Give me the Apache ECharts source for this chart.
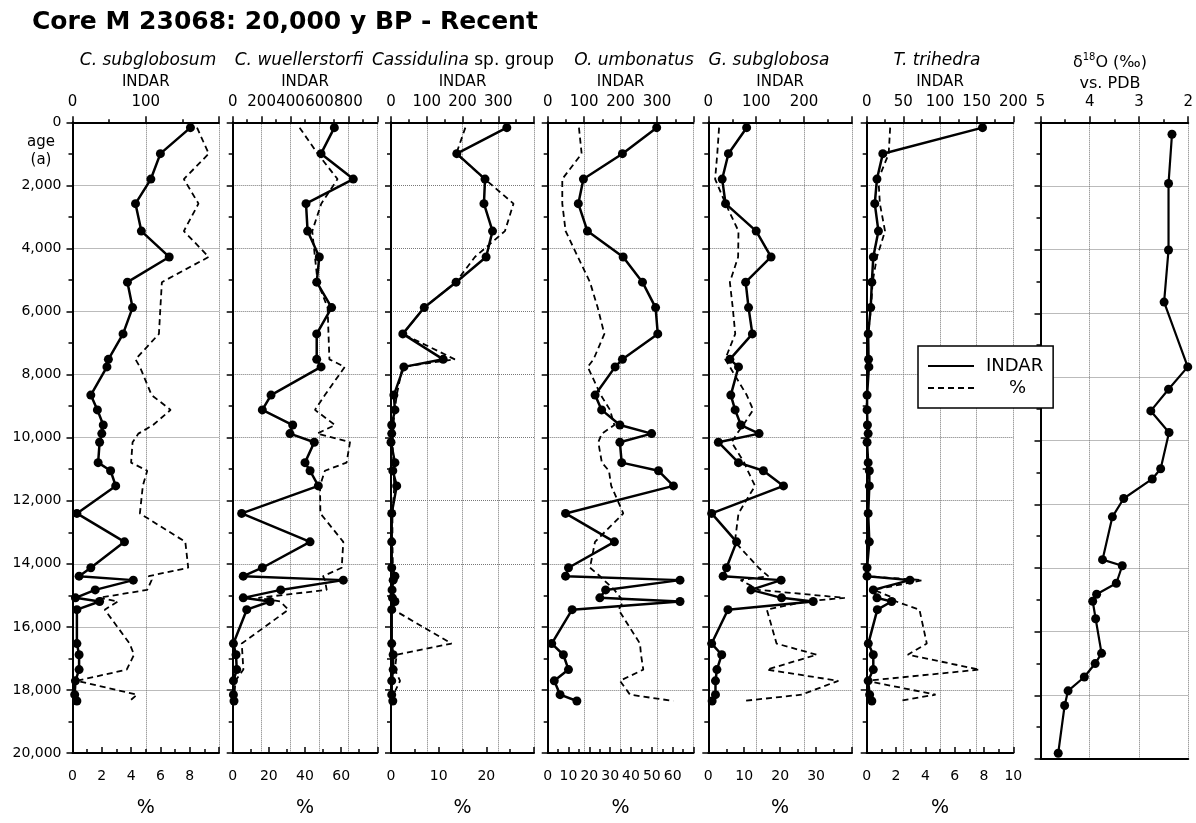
<!DOCTYPE html>
<html>
<head>
<meta charset="utf-8">
<script src="https://cdn.jsdelivr.net/npm/echarts@6/dist/echarts.min.js"></script>
<style>
html, body { margin: 0; padding: 0; background: #fff; }
#chart { width: 1196px; height: 823px; }
</style>
</head>
<body>
<div id="chart"></div>
<script>
var chart = echarts.init(document.getElementById('chart'));
var FONT = 'DejaVu Sans';

// sample ages (a) shared by the benthic foram records
var ages = [170, 995, 1800, 2580, 3450, 4270, 5070, 5875, 6710, 7517, 7756, 8650, 9120, 9600, 9872, 10145, 10792, 11050, 11530, 12403,
    13304, 14125, 14393, 14518, 14828, 15080, 15195, 15455, 16530, 16884, 17355, 17711, 18150, 18350];

var subglobosumIndar = [161, 120, 107, 86, 94, 132, 75, 82, 69, 49, 47, 25, 34, 42, 40, 37, 35, 52, 59, 6, 71, 25, 9, 83, 31, 4, 37, 6, 6, 9, 9, 4, 3, 6];
var subglobosumPct = [8.5, 9.3, 7.6, 8.6, 7.6, 9.3, 6.1, 6.0, 5.9, 4.3, 4.6, 5.4, 6.7, 5.5, 4.5, 4.1, 4.0, 5.1, 4.8, 4.6, 7.7, 7.9, 5.2, 5.4, 5.1, 1.8, 3.1, 2.2, 3.9, 4.2, 3.7, 0.3, 4.4, 3.9];

var wuellerstorfiIndar = [703, 611, 834, 507, 518, 599, 581, 684, 581, 581, 611, 265, 205, 415, 396, 564, 500, 535, 592, 62, 535, 205, 73, 765, 332, 73, 258, 97, 5, 23, 28, 5, 5, 9];
var wuellerstorfiPct = [37, 47, 58, 49, 44, 45.5, 47, 52.5, 53, 53.5, 62, 51, 45.5, 56.6, 46.8, 64.9, 63, 51, 48.3, 48.5, 61.2, 60.3, 50, 51, 52, 14.2, 26.2, 30.8, 5, 5.4, 5.9, 1.5, 1, 1];

var cassidulinaIndar = [324, 184, 263, 260, 284, 266, 182, 93, 33, 146, 36, 8, 11, 2, 2, 0, 11, 5, 16, 2, 2, 2, 11, 6, 3, 4, 11, 2, 2, 6, 6, 2, 2, 5];
var cassidulinaPct = [15.6, 13.7, 19.7, 25.7, 23.9, 17.6, 13.6, 7.0, 2.5, 13.4, 2.4, 1.2, 0.8, 0.5, 0.5, 0.3, 0.5, 0.5, 0.7, 0.3, 0.3, 0.4, 0.8, 0.6, 0.5, 0.5, 0.8, 0.5, 12.7, 1.2, 0.8, 1.9, 0.5, 0.5];

var umbonatusIndar = [299, 205, 98, 84, 109, 207, 260, 296, 302, 205, 185, 130, 148, 198, 285, 198, 203, 304, 345, 49, 183, 57, 49, 363, 159, 143, 363, 67, 11, 43, 57, 18, 34, 80];
var umbonatusPct = [15, 16.3, 7, 7, 8.6, 14.5, 20.3, 24, 27.2, 22, 19.2, 25.5, 29.9, 32, 26, 24.3, 26, 29.4, 30.5, 36.3, 22.7, 20.3, 25.1, 27, 32, 35, 36.3, 34, 44.3, 44.8, 45.9, 34.7, 39.5, 60.3];

var subglobosaIndar = [80, 42, 29, 36, 100, 131, 78, 84, 92, 45, 63, 47, 56, 68, 106, 21, 63, 115, 157, 7, 59, 38, 31, 152, 89, 153, 219, 41, 7, 28, 18, 15, 15, 8];
var subglobosaPct = [3.0, 2.5, 1.9, 4.8, 8.4, 8.3, 6.0, 6.8, 7.5, 4.7, 6.0, 10.7, 12.5, 9.7, 8, 6.5, 10, 11, 13, 8.4, 7.4, 14, 16.7, 9, 14, 38, 27, 16.3, 19, 30.2, 16.3, 36.2, 26, 9.7];

var trihedraIndar = [158, 22, 14, 11, 16, 9, 7, 5.5, 2, 2.5, 3, 0.5, 0.5, 1, 2, 0.5, 2, 3.6, 3.6, 2, 3.6, 0.5, 0.5, 59, 9, 14, 34, 14.5, 2.2, 9, 9, 2, 4, 7];
var trihedraPct = [1.6, 1.5, 0.8, 0.9, 1.25, 0.7, 0.4, 0.3, 0.1, 0.1, 0.1, 0, 0, 0.05, 0.1, 0, 0.05, 0.1, 0.1, 0.05, 0.1, 0, 0, 3.8, 0.5, 1.8, 2.0, 3.6, 4.1, 2.8, 7.7, 0, 4.7, 2.2];

// oxygen isotope record has its own sample ages
var isoAges = [377, 1923, 4010, 5648, 7683, 8387, 9066, 9744, 10883, 11203, 11818, 12394, 13738, 13930, 14480, 14826, 15043, 15594,
    16682, 17002, 17424, 17859, 18320, 19818];
var isoValues = [2.33, 2.40, 2.40, 2.49, 2.01, 2.40, 2.76, 2.39, 2.56, 2.73, 3.31, 3.54, 3.74, 3.34, 3.46, 3.86, 3.94, 3.88,
    3.76, 3.89, 4.11, 4.44, 4.51, 4.64];

var panels = [
    { title: '{i|C. subglobosum}', cx: 148, left: 72.5, width: 146.5, indar: subglobosumIndar, pct: subglobosumPct,
      topMax: 200, topInt: 100, pctMax: 10, pctInt: 2, topLast: false, pctLast: false },
    { title: '{i|C. wuellerstorfi}', cx: 299, left: 232.7, width: 144.6, indar: wuellerstorfiIndar, pct: wuellerstorfiPct,
      topMax: 1000, topInt: 200, pctMax: 80, pctInt: 20, topLast: false, pctLast: false },
    { title: '{i|Cassidulina} sp. group', cx: 463, left: 391, width: 143, indar: cassidulinaIndar, pct: cassidulinaPct,
      topMax: 400, topInt: 100, pctMax: 30, pctInt: 10, topLast: false, pctLast: false },
    { title: '{i|O. umbonatus}', cx: 634, left: 547.7, width: 145.8, indar: umbonatusIndar, pct: umbonatusPct,
      topMax: 400, topInt: 100, pctMax: 70, pctInt: 10, topLast: false, pctLast: false },
    { title: '{i|G. subglobosa}', cx: 769, left: 708.3, width: 143.7, indar: subglobosaIndar, pct: subglobosaPct,
      topMax: 300, topInt: 100, pctMax: 40, pctInt: 10, topLast: false, pctLast: false },
    { title: '{i|T. trihedra}', cx: 937, left: 866.7, width: 146.6, indar: trihedraIndar, pct: trihedraPct,
      topMax: 200, topInt: 50, pctMax: 10, pctInt: 2, topLast: true, pctLast: true }
];

var black = '#000';
var tickStyle = { color: black, width: 1.5 };
var gridLine = { color: '#777', type: 'dotted', width: 1 };
var labelFont = { fontFamily: FONT, fontSize: 14, color: black };
var topFont = { fontFamily: FONT, fontSize: 15, color: black };

function fmtAge(v) {
    return String(v).replace(/\B(?=(\d{3})+(?!\d))/g, ',');
}

var titles = [
    { text: 'Core M 23068: 20,000 y BP - Recent', left: 32, top: 10, padding: 0,
      textStyle: { fontFamily: FONT, fontSize: 25, fontWeight: 'bold', color: black } },
    { text: 'age\n(a)', left: 41, top: 133, padding: 0, textAlign: 'center',
      textStyle: { fontFamily: FONT, fontSize: 15, fontWeight: 'normal', color: black, lineHeight: 18 } }
];
var grids = [];
var xAxes = [];
var yAxes = [];
var series = [];

function addY(i) {
    yAxes.push({
        gridIndex: i, type: 'value', inverse: true, min: 0, max: 20000, interval: 2000,
        axisLine: { show: true, onZero: false, lineStyle: { color: black, width: 2 } },
        axisTick: { show: true, length: 6, lineStyle: tickStyle },
        minorTick: { show: true, splitNumber: 2, length: 4, lineStyle: tickStyle },
        axisLabel: Object.assign({ show: i === 0, margin: 11, formatter: fmtAge }, labelFont),
        splitLine: { show: true, lineStyle: gridLine }
    });
}

panels.forEach(function (p, i) {
    titles.push({
        text: p.title, left: p.cx, top: 52, padding: 0, textAlign: 'center',
        textStyle: { fontFamily: FONT, fontSize: 17, fontWeight: 'normal', color: black,
            rich: { i: { fontFamily: FONT, fontSize: 17, fontStyle: 'italic', color: black } } }
    });
    grids.push({ left: p.left, width: p.width, top: 122.3, height: 636.7 });
    xAxes.push({
        gridIndex: i, type: 'value', position: 'top', min: 0, max: p.topMax, interval: p.topInt,
        name: 'INDAR', nameLocation: 'middle', nameGap: 33,
        nameTextStyle: { fontFamily: FONT, fontSize: 15, color: black },
        axisLine: { show: true, onZero: false, lineStyle: { color: black, width: 2 } },
        axisTick: { show: true, length: 6, lineStyle: tickStyle },
        minorTick: { show: true, splitNumber: 2, length: 3, lineStyle: tickStyle },
        axisLabel: Object.assign({ margin: 13, showMaxLabel: p.topLast }, topFont),
        splitLine: { show: true, lineStyle: gridLine }
    });
    xAxes.push({
        gridIndex: i, type: 'value', position: 'bottom', min: 0, max: p.pctMax, interval: p.pctInt,
        name: '%', nameLocation: 'middle', nameGap: 46,
        nameTextStyle: { fontFamily: FONT, fontSize: 19, color: black },
        axisLine: { show: true, onZero: false, lineStyle: { color: black, width: 2 } },
        axisTick: { show: true, inside: true, length: 6, lineStyle: tickStyle },
        minorTick: { show: true, splitNumber: 2, length: 4, lineStyle: tickStyle },
        axisLabel: Object.assign({ margin: 16, showMaxLabel: p.pctLast }, labelFont),
        splitLine: { show: false }
    });
    addY(i);
    series.push({
        type: 'line', name: 'INDAR', xAxisIndex: 2 * i, yAxisIndex: i, z: 3,
        data: ages.map(function (a, k) { return [p.indar[k], a]; }),
        symbol: 'circle', symbolSize: 9,
        lineStyle: { color: black, width: 2.5 }, itemStyle: { color: black }
    });
    series.push({
        type: 'line', name: '%', xAxisIndex: 2 * i + 1, yAxisIndex: i, z: 2,
        data: ages.map(function (a, k) { return [p.pct[k], a]; }),
        symbol: 'none',
        lineStyle: { color: black, width: 1.8, type: [6, 4] }, itemStyle: { color: black }
    });
});

// delta 18O panel
titles.push({
    text: '\u03b4{s|18}O (\u2030)\nvs. PDB', left: 1110, top: 52, padding: 0, textAlign: 'center',
    textStyle: { fontFamily: FONT, fontSize: 16, color: black, lineHeight: 21, fontWeight: 'normal',
        rich: { s: { fontFamily: FONT, fontSize: 10, color: black, verticalAlign: 'top', lineHeight: 21 } } }
});
grids.push({ left: 1040.5, width: 150, top: 122.3, height: 636.7 });
xAxes.push({
    gridIndex: 6, type: 'value', position: 'top', inverse: true, min: 2, max: 5, interval: 1,
    axisLine: { show: true, onZero: false, lineStyle: { color: black, width: 2 } },
    axisTick: { show: true, length: 6, lineStyle: tickStyle },
    minorTick: { show: true, splitNumber: 2, length: 3, lineStyle: tickStyle },
    axisLabel: Object.assign({ margin: 13 }, topFont),
    splitLine: { show: true, lineStyle: gridLine }
});
xAxes.push({
    gridIndex: 6, type: 'value', position: 'bottom', inverse: true, min: 2, max: 5, interval: 1,
    axisLine: { show: true, onZero: false, lineStyle: { color: black, width: 2 } },
    axisTick: { show: false }, axisLabel: { show: false }, splitLine: { show: false }
});
addY(6);
series.push({
    type: 'line', name: 'd18O', xAxisIndex: 12, yAxisIndex: 6, z: 3,
    data: isoAges.map(function (a, k) { return [isoValues[k], a]; }),
    symbol: 'circle', symbolSize: 9,
    lineStyle: { color: black, width: 2.2 }, itemStyle: { color: black }
});

var option = {
    animation: false,
    backgroundColor: '#fff',
    title: titles,
    legend: {
        left: 918, top: 346, orient: 'vertical', selectedMode: false,
        padding: [11, 10, 11, 9], itemGap: 4, itemWidth: 46, itemHeight: 14,
        backgroundColor: '#fff', borderColor: black, borderWidth: 1.5, borderRadius: 0,
        itemStyle: { opacity: 0 },
        textStyle: { fontFamily: FONT, fontSize: 18, color: black, padding: [0, 0, 0, 7] },
        data: ['INDAR', { name: '%', textStyle: { padding: [0, 0, 0, 30] } }],
        z: 10
    },
    grid: grids,
    xAxis: xAxes,
    yAxis: yAxes,
    series: series
};
chart.setOption(option);
window.onresize = chart.resize;
</script>
</body>
</html>
